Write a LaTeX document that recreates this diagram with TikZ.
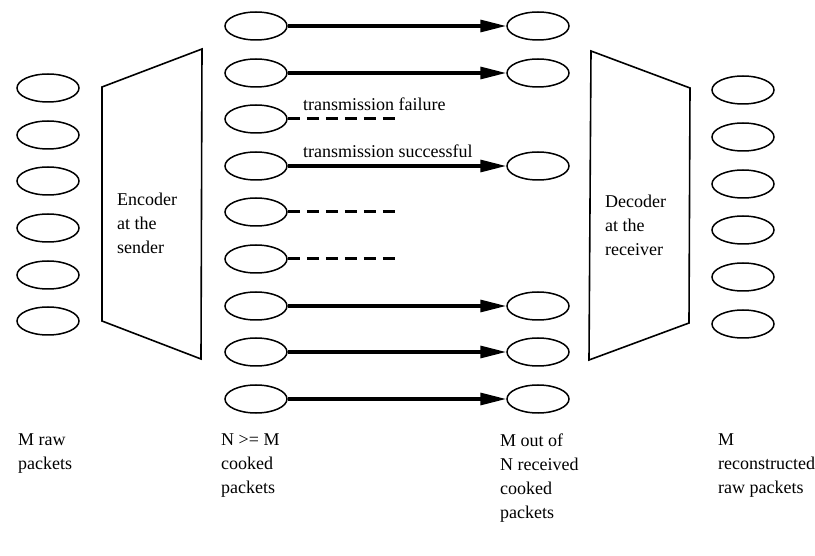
\documentclass[tikz,border=0pt]{standalone}
\usepackage{fontspec}
\setmainfont{Liberation Serif}
\usetikzlibrary{shapes,arrows.meta}

\tikzset{
  pkt/.style={draw, ellipse, line width=1.5pt, minimum width=62pt,
    minimum height=28pt, inner sep=0pt},
  coder/.style={draw, line width=1.6pt, line join=miter},
  sent/.style={line width=3.2pt, -{Triangle[length=26pt,width=12pt]}},
  lost/.style={line width=3pt, dash pattern=on 12pt off 7pt},
  lbl/.style={font=\fontsize{18}{24}\selectfont, align=left,
    anchor=north west, inner sep=0pt},
}

\begin{document}
\begin{tikzpicture}[x=1pt,y=-1pt]
  \useasboundingbox (0,0) rectangle (815,556);

  % raw packets
  \node[pkt] (raw1) at (48,88) {};
  \node[pkt] (raw2) at (48,135) {};
  \node[pkt] (raw3) at (48,181) {};
  \node[pkt] (raw4) at (48,228) {};
  \node[pkt] (raw5) at (48,275) {};
  \node[pkt] (raw6) at (48,321) {};

  % encoder
  \draw[coder] (102,87) -- (202,49) -- (201,359) -- (102,321) -- cycle;
  \node[lbl] (enc) at (117,193) {Encoder\\at the\\sender};

  % cooked packets
  \node[pkt] (ck1) at (256,26) {};
  \node[pkt] (ck2) at (256,73) {};
  \node[pkt] (ck3) at (256,119) {};
  \node[pkt] (ck4) at (256,166) {};
  \node[pkt] (ck5) at (256,212) {};
  \node[pkt] (ck6) at (256,259) {};
  \node[pkt] (ck7) at (256,306) {};
  \node[pkt] (ck8) at (256,352) {};
  \node[pkt] (ck9) at (256,399) {};

  % received packets
  \node[pkt] (rc1) at (538,26) {};
  \node[pkt] (rc2) at (538,73) {};
  \node[pkt] (rc4) at (538,166) {};
  \node[pkt] (rc7) at (538,306) {};
  \node[pkt] (rc8) at (538,352) {};
  \node[pkt] (rc9) at (538,399) {};

  \draw[sent] (ck1.east) -- (rc1.west);
  \draw[sent] (ck2.east) -- (rc2.west);
  \draw[sent] (ck4.east) -- (rc4.west);
  \draw[sent] (ck7.east) -- (rc7.west);
  \draw[sent] (ck8.east) -- (rc8.west);
  \draw[sent] (ck9.east) -- (rc9.west);

  \coordinate (end3) at (397,119);
  \coordinate (end5) at (397,212);
  \coordinate (end6) at (397,259);
  \draw[lost] (ck3.east) -- (end3);
  \draw[lost] (ck5.east) -- (end5);
  \draw[lost] (ck6.east) -- (end6);

  \node[lbl] (fail) at (303,98) {transmission failure};
  \node[lbl] (succ) at (303,145) {transmission successful};

  % decoder
  \draw[coder] (591,51) -- (690,88) -- (689,323) -- (589,360) -- cycle;
  \node[lbl] (dec) at (605,195) {Decoder\\at the\\receiver};

  % reconstructed packets
  \node[pkt] (out1) at (743,90) {};
  \node[pkt] (out2) at (743,137) {};
  \node[pkt] (out3) at (743,184) {};
  \node[pkt] (out4) at (743,230) {};
  \node[pkt] (out5) at (743,277) {};
  \node[pkt] (out6) at (743,324) {};

  % captions
  \node[lbl] (capraw) at (18,434) {M raw\\packets};
  \node[lbl] (capck) at (221,434) {N >= M\\cooked\\packets};
  \node[lbl] (caprc) at (500,434) {M out of\\N received\\cooked\\packets};
  \node[lbl] (capout) at (718,434) {M\\reconstructed\\raw packets};
\end{tikzpicture}
\end{document}
